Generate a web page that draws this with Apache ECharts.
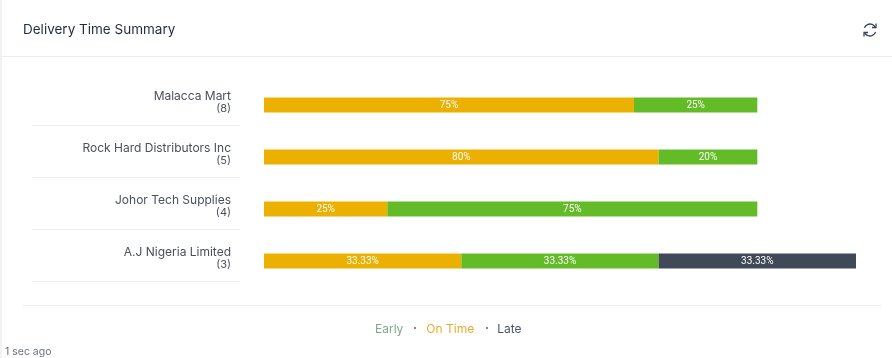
<!DOCTYPE html>
<html>
<head>
<meta charset="utf-8">
<title>Delivery Time Summary</title>
<style>
html, body { margin: 0; padding: 0; background: #fff; }
#chart { width: 892px; height: 358px; }
</style>
<script src="https://cdn.jsdelivr.net/npm/echarts@6/dist/echarts.min.js"></script>
</head>
<body>
<div id="chart"></div>
<script>
var suppliers = ["Malacca Mart", "Rock Hard Distributors Inc", "Johor Tech Supplies", "A.J Nigeria Limited"];
var orderCounts = [8, 5, 4, 3];
// bar lengths as drawn, the last row runs longer than the other three
var onTimeValues = [75, 80, 25, 40];
var earlyValues = [25, 20, 75, 40];
var lateValues = [0, 0, 0, 40];
var onTimeLabels = ["75%", "80%", "25%", "33.33%"];
var earlyLabels = ["25%", "20%", "75%", "33.33%"];
var lateLabels = ["", "", "", "33.33%"];
var legendNames = ["Early", "On Time", "Late"];

var fontName = "Inter";
var myChart = echarts.init(document.getElementById("chart"));

function barSeries(name, color, values, labels) {
    return {
        name: name,
        type: "bar",
        stack: "total",
        barWidth: 15,
        itemStyle: { color: color },
        label: {
            show: true,
            position: "inside",
            color: "#fff",
            fontSize: 10,
            fontFamily: "Roboto",
            formatter: function(p) {
                return labels[p.dataIndex];
            }
        },
        data: values
    };
}

function rule(x1, y, x2) {
    return {
        type: "line",
        silent: true,
        shape: { x1: x1, y1: y + 0.5, x2: x2, y2: y + 0.5 },
        style: { stroke: "#eeeeee", lineWidth: 1 }
    };
}

function iconArc(start, end) {
    return {
        type: "arc",
        silent: true,
        shape: { cx: 870, cy: 30, r: 6, startAngle: start, endAngle: end },
        style: { fill: null, stroke: "#3b4654", lineWidth: 1.3 }
    };
}

function iconArrow(points) {
    return {
        type: "polyline",
        silent: true,
        shape: { points: points },
        style: { fill: null, stroke: "#3b4654", lineWidth: 1.3 }
    };
}

function legendDot(x) {
    return { type: "rect", silent: true, shape: { x: x, y: 327, width: 2, height: 2 }, style: { fill: "#8a8a8a" } };
}

var graphics = [
    { type: "rect", shape: { x: 0, y: 0, width: 2, height: 358 }, style: { fill: "#f2f2f2" } },
    { type: "text", x: 23, y: 23, style: { text: "Delivery Time Summary", font: "13.5px " + fontName, fill: "#1f2a44" } },
    { type: "text", x: 5, y: 346, style: { text: "1 sec ago", font: "10.5px " + fontName, fill: "#6b7280" } },
    legendDot(414),
    legendDot(486),
    iconArc(3.5, 5.8),
    iconArc(0.35, 2.65),
    iconArrow([[876, 23.5], [876, 27.5], [872, 27.5]]),
    iconArrow([[864, 36.5], [864, 32.5], [868, 32.5]]),
    rule(0, 56, 892),
    rule(23, 305, 881)
];
for (var i = 0; i < suppliers.length; i++) {
    graphics.push(rule(32, 125 + i * 52, 240));
}

myChart.setOption({
    animation: false,
    backgroundColor: "#fff",
    legend: {
        top: 318,
        left: 365,
        icon: "rect",
        itemWidth: 0,
        itemHeight: 0,
        itemGap: 18,
        selectedMode: false,
        textStyle: { fontSize: 12, fontFamily: fontName },
        data: [
            { name: legendNames[0], textStyle: { color: "#7fa88a" } },
            { name: legendNames[1], textStyle: { color: "#f0a92e" } },
            { name: legendNames[2], textStyle: { color: "#4a5568" } }
        ]
    },
    grid: { left: 264, right: 36, top: 79, height: 208 },
    xAxis: { type: "value", min: 0, max: 120, show: false },
    yAxis: {
        type: "category",
        inverse: true,
        data: suppliers,
        axisLine: { show: false },
        axisTick: { show: false },
        axisLabel: {
            margin: 33,
            align: "right",
            padding: [0, 0, 6, 0],
            formatter: function(value, index) {
                return "{name|" + value + "}\n{count|(" + orderCounts[index] + ")}";
            },
            rich: {
                name: { fontSize: 12, fontFamily: fontName, color: "#4a4f5c", lineHeight: 14, align: "right" },
                count: { fontSize: 11, fontFamily: fontName, color: "#4a4f5c", lineHeight: 12, align: "right" }
            }
        }
    },
    series: [
        barSeries("On Time", "#ecb000", onTimeValues, onTimeLabels),
        barSeries("Early", "#64bb28", earlyValues, earlyLabels),
        barSeries("Late", "#404958", lateValues, lateLabels)
    ],
    graphic: graphics
});
</script>
</body>
</html>
